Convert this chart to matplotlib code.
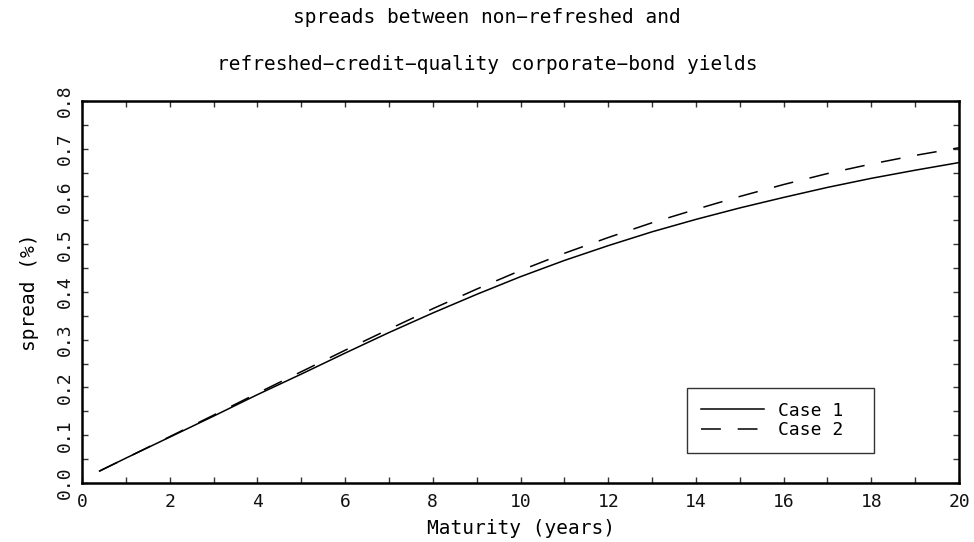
import matplotlib
matplotlib.use("Agg")
import matplotlib.pyplot as plt
from matplotlib.ticker import MultipleLocator, FormatStrFormatter

maturity = [0.4, 1, 2, 3, 4, 5, 6, 7, 8, 9, 10, 11, 12, 13, 14, 15, 16, 17, 18, 19, 20]
case1 = [0.025, 0.052, 0.096, 0.140, 0.185, 0.228, 0.272, 0.315, 0.356, 0.395, 0.432,
         0.466, 0.497, 0.526, 0.552, 0.576, 0.598, 0.619, 0.638, 0.655, 0.671]
case2 = [0.025, 0.052, 0.097, 0.142, 0.188, 0.233, 0.278, 0.322, 0.365, 0.406, 0.445,
         0.481, 0.514, 0.545, 0.573, 0.600, 0.625, 0.648, 0.668, 0.686, 0.702]

FONT = ['DejaVu Sans Mono', 'DejaVu Sans']
plt.rcParams['font.family'] = FONT
fig = plt.figure(figsize=(9.74, 5.42), dpi=100)
ax = fig.add_axes([0.0842, 0.1089, 0.9004, 0.7048])

ax.plot(maturity, case1, color='black', lw=1.1, label='Case 1')
ax.plot(maturity, case2, color='black', lw=1.1, dashes=(13, 11), label='Case 2')

ax.set_xlim(0, 20)
ax.set_ylim(0, 0.8)
ax.xaxis.set_major_locator(MultipleLocator(2))
ax.xaxis.set_minor_locator(MultipleLocator(1))
ax.yaxis.set_major_locator(MultipleLocator(0.1))
ax.yaxis.set_minor_locator(MultipleLocator(0.05))
ax.yaxis.set_major_formatter(FormatStrFormatter('%.1f'))
ax.tick_params(which='both', direction='in', top=True, right=True, length=4, width=1,
               labelsize=13, color='#333333', labelcolor='#111111')
ax.tick_params(axis='x', pad=7)
ax.tick_params(axis='y', pad=6)
for lbl in ax.get_yticklabels():
    lbl.set_rotation(90)
    lbl.set_va('center')
for s in ax.spines.values():
    s.set_linewidth(1.8)

ax.set_xlabel('Maturity (years)', fontsize=14, labelpad=6)
ax.set_ylabel('spread (%)', fontsize=14, labelpad=12)

fig.text(0.5, 0.967, 'spreads between non\u2212refreshed and', ha='center', va='center', fontsize=14)
fig.text(0.5, 0.881, 'refreshed\u2212credit\u2212quality corporate\u2212bond yields', ha='center', va='center', fontsize=14)

leg = ax.legend(loc='upper left', bbox_to_anchor=(0.690, 0.0785, 0.213, 0.170), mode='expand',
                frameon=True, fancybox=False, edgecolor='black', fontsize=13,
                handlelength=3.5, handletextpad=0.8, borderpad=0.75, labelspacing=0.1,
                borderaxespad=0)
leg.get_frame().set_linewidth(1.0)

fig.savefig('out.png', dpi=100)
